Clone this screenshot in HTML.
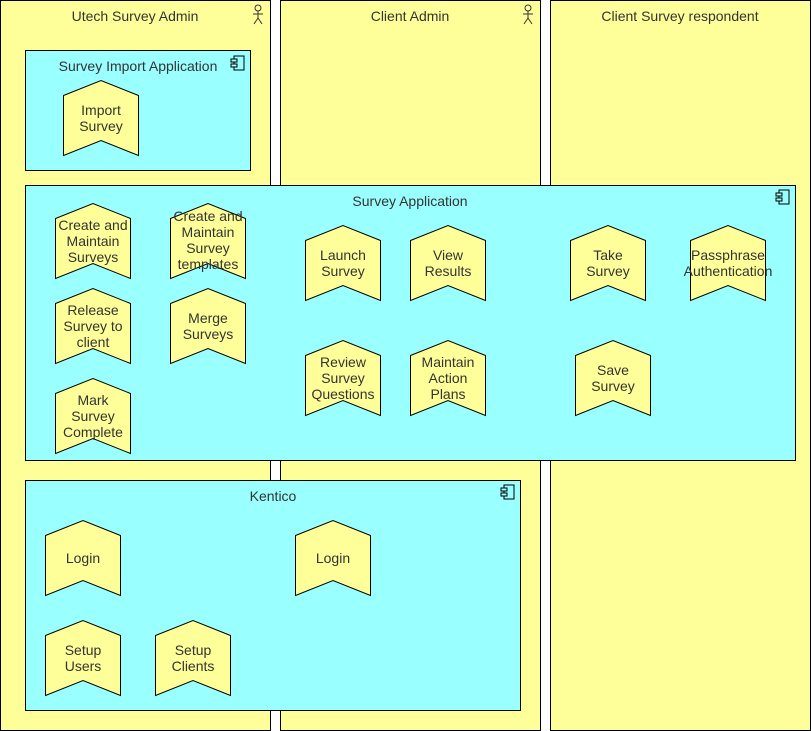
<!DOCTYPE html>
<html><head><meta charset="utf-8"><style>
html,body{margin:0;padding:0;background:#fff;width:811px;height:731px;overflow:hidden}
svg{display:block}
text{font-family:"Liberation Sans",Arial,sans-serif;font-size:14px;fill:#333;text-anchor:middle}
</style></head><body>
<svg width="811" height="731" viewBox="0 0 811 731" xmlns="http://www.w3.org/2000/svg">
<defs>
<polygon id="ch" points="0,15 37.5,0 75,15 75,75 37.5,60 0,75" fill="#ffff99" stroke="#000" stroke-width="1"/>
<g id="actor" fill="none" stroke="#333" stroke-width="1"><circle cx="0" cy="3" r="3"/><line x1="0" y1="6" x2="0" y2="13"/><line x1="-5" y1="9" x2="5" y2="9"/><line x1="0" y1="13" x2="-4" y2="19"/><line x1="0" y1="13" x2="4" y2="19"/></g>
<g id="comp" fill="none" stroke="#000" stroke-width="1"><rect x="3" y="0" width="10" height="14" fill="#99ffff"/><rect x="0" y="3" width="6" height="3" fill="#99ffff"/><rect x="0" y="8" width="6" height="3" fill="#99ffff"/></g>
</defs>
<rect x="0.5" y="0.5" width="270" height="730" fill="#ffff99" stroke="#000"/>
<rect x="280.5" y="0.5" width="260" height="730" fill="#ffff99" stroke="#000"/>
<rect x="550.5" y="0.5" width="260" height="730" fill="#ffff99" stroke="#000"/>
<text x="135" y="21">Utech Survey Admin</text>
<text x="410" y="21">Client Admin</text>
<text x="680" y="21">Client Survey respondent</text>
<use href="#actor" x="258" y="5"/>
<use href="#actor" x="528" y="5"/>

<rect x="25.5" y="50.5" width="225" height="120" fill="#99ffff" stroke="#000"/>
<text x="138" y="71">Survey Import Application</text>
<use href="#comp" x="231" y="56"/>
<rect x="25.5" y="185.5" width="770" height="275" fill="#99ffff" stroke="#000"/>
<text x="410" y="206">Survey Application</text>
<use href="#comp" x="776" y="190"/>
<rect x="25.5" y="480.5" width="495" height="230" fill="#99ffff" stroke="#000"/>
<text x="273" y="501">Kentico</text>
<use href="#comp" x="501" y="485"/>

<use href="#ch" x="63.5" y="80.5"/><text x="101" y="115">Import</text><text x="101" y="131">Survey</text>
<use href="#ch" x="55.5" y="203.5"/><text x="93" y="230">Create and</text><text x="93" y="246">Maintain</text><text x="93" y="262">Surveys</text>
<use href="#ch" x="170.5" y="203.5"/><text x="208" y="221">Create and</text><text x="208" y="237">Maintain</text><text x="208" y="253">Survey</text><text x="208" y="269">templates</text>
<use href="#ch" x="55.5" y="288.5"/><text x="93" y="315">Release</text><text x="93" y="331">Survey to</text><text x="93" y="347">client</text>
<use href="#ch" x="170.5" y="288.5"/><text x="208" y="323">Merge</text><text x="208" y="339">Surveys</text>
<use href="#ch" x="55.5" y="378.5"/><text x="93" y="405">Mark</text><text x="93" y="421">Survey</text><text x="93" y="437">Complete</text>
<use href="#ch" x="305.5" y="225.5"/><text x="343" y="260">Launch</text><text x="343" y="276">Survey</text>
<use href="#ch" x="410.5" y="225.5"/><text x="448" y="260">View</text><text x="448" y="276">Results</text>
<use href="#ch" x="570.5" y="225.5"/><text x="608" y="260">Take</text><text x="608" y="276">Survey</text>
<use href="#ch" x="690.5" y="225.5"/><text x="728" y="260">Passphrase</text><text x="728" y="276">Authentication</text>
<use href="#ch" x="305.5" y="340.5"/><text x="343" y="367">Review</text><text x="343" y="383">Survey</text><text x="343" y="399">Questions</text>
<use href="#ch" x="410.5" y="340.5"/><text x="448" y="367">Maintain</text><text x="448" y="383">Action</text><text x="448" y="399">Plans</text>
<use href="#ch" x="575.5" y="340.5"/><text x="613" y="375">Save</text><text x="613" y="391">Survey</text>

<use href="#ch" x="45.5" y="520.5"/><text x="83" y="563">Login</text>
<use href="#ch" x="295.5" y="520.5"/><text x="333" y="563">Login</text>
<use href="#ch" x="45.5" y="620.5"/><text x="83" y="655">Setup</text><text x="83" y="671">Users</text>
<use href="#ch" x="155.5" y="620.5"/><text x="193" y="655">Setup</text><text x="193" y="671">Clients</text>
</svg>
</body></html>
